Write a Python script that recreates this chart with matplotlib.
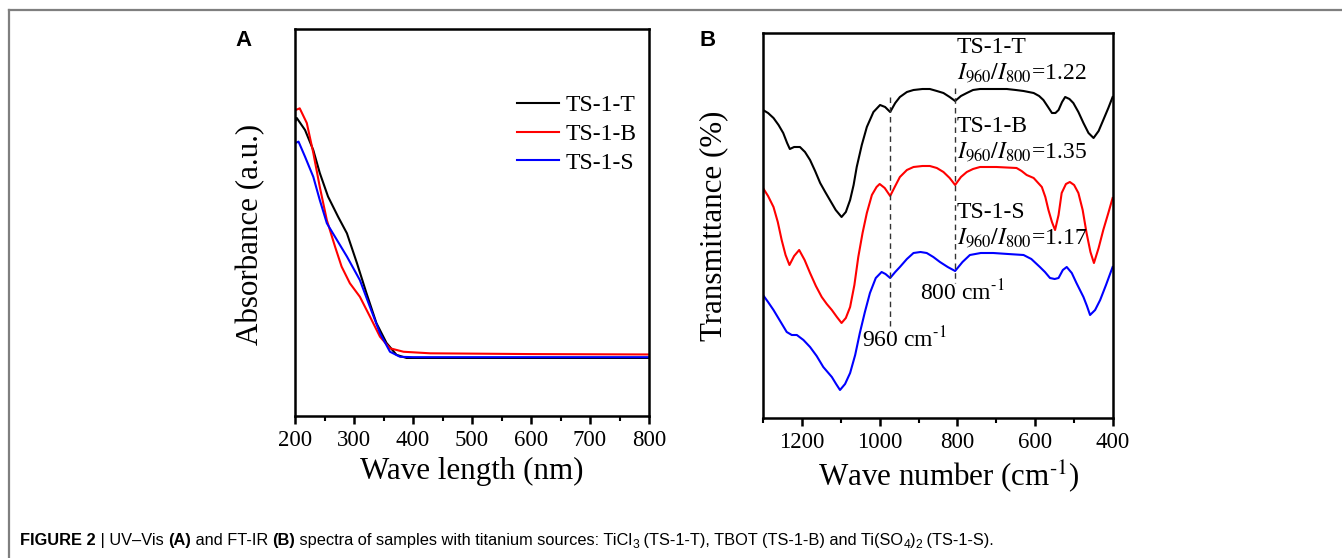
import numpy as np
import matplotlib
matplotlib.use("Agg")
import matplotlib.pyplot as plt
from matplotlib.lines import Line2D
from matplotlib.ticker import MultipleLocator

plt.rcParams["font.family"] = "Liberation Serif"
plt.rcParams["mathtext.fontset"] = "stix"

# ---- (A) UV-Vis, absorbance in arbitrary units ----
uv_t_x = [200, 203, 217, 231, 242, 256, 273, 288, 305, 321, 338, 355, 372, 389, 450, 600, 800]
uv_t_y = [0.760, 0.770, 0.739, 0.687, 0.628, 0.567, 0.515, 0.472, 0.395, 0.318, 0.240, 0.189,
          0.158, 0.150, 0.150, 0.150, 0.150]
uv_b_x = [200, 208, 220, 231, 242, 254, 268, 279, 293, 310, 327, 344, 361, 384, 429, 600, 800]
uv_b_y = [0.790, 0.795, 0.757, 0.680, 0.592, 0.506, 0.437, 0.386, 0.343, 0.308, 0.257, 0.205,
          0.175, 0.166, 0.162, 0.160, 0.159]
uv_s_x = [200, 206, 217, 231, 242, 254, 271, 288, 310, 327, 344, 361, 378, 400, 600, 800]
uv_s_y = [0.705, 0.709, 0.670, 0.618, 0.558, 0.498, 0.455, 0.412, 0.351, 0.282, 0.214, 0.166,
          0.153, 0.152, 0.152, 0.152]

# ---- (B) FT-IR, transmittance (offset curves, read as pixel heights) ----
ir_t_x = [1300, 1287, 1273, 1260, 1248, 1238, 1231, 1220, 1205, 1192, 1179, 1166, 1153, 1140,
          1128, 1113, 1098, 1087, 1076, 1067, 1059, 1046, 1033, 1016, 999, 986, 973, 960, 948,
          930, 913, 890, 871, 853, 836, 820, 806, 791, 776, 760, 742, 700, 673, 650, 630, 604,
          590, 579, 567, 557, 548, 540, 531, 523, 512, 502, 489, 476, 463, 450, 437, 425, 412, 401]
ir_t_y = [110, 113, 118, 125, 133, 143, 149, 147, 147, 152, 160, 171, 183, 192,
          200, 210, 217, 212, 200, 185, 167, 145, 127, 112, 105, 107, 112, 103, 97,
          92, 90, 89, 89, 91, 93, 97, 101, 96, 93, 90, 89, 89, 89, 90, 91, 93,
          96, 100, 107, 113, 113, 110, 102, 97, 99, 103, 112, 123, 133, 138, 131, 120, 108, 97]
ir_b_x = [1300, 1287, 1273, 1262, 1252, 1242, 1232, 1220, 1207, 1193, 1179, 1164, 1149, 1136,
          1123, 1110, 1098, 1087, 1076, 1065, 1055, 1044, 1033, 1020, 1008, 1000, 987, 973, 960,
          948, 930, 913, 890, 871, 853, 836, 820, 806, 791, 776, 760, 742, 700, 648, 635, 622,
          604, 583, 574, 566, 557, 549, 540, 532, 521, 511, 500, 489, 478, 468, 458, 449, 437,
          425, 412, 401]
ir_b_y = [188, 196, 207, 222, 240, 255, 265, 256, 250, 260, 273, 286, 297, 304,
          310, 317, 323, 318, 307, 285, 257, 233, 213, 195, 187, 184, 188, 196, 186,
          177, 170, 167, 166, 166, 168, 172, 178, 185, 177, 172, 169, 167, 167, 168, 171, 175,
          178, 187, 197, 210, 222, 230, 215, 193, 184, 182, 185, 193, 210, 233, 252, 263, 248,
          230, 213, 198]
ir_s_x = [1300, 1287, 1273, 1256, 1239, 1226, 1213, 1196, 1179, 1162, 1145, 1134, 1123, 1112,
          1102, 1089, 1076, 1063, 1051, 1038, 1025, 1010, 995, 985, 973, 960, 948, 930, 913,
          895, 879, 862, 845, 825, 806, 787, 768, 740, 708, 670, 630, 610, 588, 575, 562, 550,
          540, 529, 519, 506, 494, 485, 476, 467, 459, 446, 433, 418, 401]
ir_s_y = [295, 302, 310, 321, 332, 335, 335, 340, 347, 356, 367, 372, 377, 384,
          390, 384, 373, 355, 333, 312, 293, 278, 272, 274, 278, 272, 267, 259, 253,
          252, 253, 257, 262, 267, 271, 262, 255, 253, 253, 254, 255, 259, 267, 272, 278, 279,
          278, 270, 267, 273, 283, 290, 297, 306, 315, 310, 300, 285, 267]

labels = ["TS-1-T", "TS-1-B", "TS-1-S"]
ratios = ["1.22", "1.35", "1.17"]
colors = ["black", "#ff0000", "#0000ff"]


def to_level(py):
    # pixel-read heights -> transmittance level (higher = more transmission)
    return (418 - np.array(py)) / 385.0


fig = plt.figure(figsize=(13.42, 5.58), dpi=100)

# open frame round the figure (top + left)
fig.add_artist(Line2D([9 / 1342, 1], [1 - 10 / 558, 1 - 10 / 558], color="#7f7f7f", lw=1.6))
fig.add_artist(Line2D([9 / 1342, 9 / 1342], [0, 1 - 10 / 558], color="#7f7f7f", lw=1.6))

axA = fig.add_axes([295 / 1342, 142 / 558, 354 / 1342, 387 / 558])
axB = fig.add_axes([763 / 1342, 140 / 558, 350 / 1342, 385 / 558])

for x, y, c, lab in zip([uv_t_x, uv_b_x, uv_s_x], [uv_t_y, uv_b_y, uv_s_y], colors, labels):
    axA.plot(x, y, color=c, lw=1.5, label=lab)
axA.set_xlim(200, 800)
axA.set_ylim(0, 1)
axA.xaxis.set_major_locator(MultipleLocator(100))
axA.xaxis.set_minor_locator(MultipleLocator(50))
axA.set_yticks([])
axA.set_xlabel("Wave length (nm)", fontsize=22.3, labelpad=4)
axA.set_ylabel("Absorbance (a.u.)", fontsize=22.3)
axA.yaxis.set_label_coords(-0.085, 0.47)
axA.legend(loc="upper left", bbox_to_anchor=(0.627, 0.83), frameon=False, fontsize=17,
           handlelength=1.8, handletextpad=0.25, labelspacing=0.3, borderpad=0,
           borderaxespad=0)

for x, y, c in zip([ir_t_x, ir_b_x, ir_s_x], [ir_t_y, ir_b_y, ir_s_y], colors):
    axB.plot(x, to_level(y), color=c, lw=1.5)
axB.set_xlim(1300, 400)
axB.set_ylim(0, 1)
axB.xaxis.set_major_locator(MultipleLocator(200))
axB.xaxis.set_minor_locator(MultipleLocator(100))
axB.set_yticks([])
axB.set_xlabel(r"Wave number (cm$^{\text{-1}}$)", fontsize=22.3, labelpad=4)
axB.xaxis.label.set_x(0.53)
axB.set_ylabel("Transmittance (%)", fontsize=22.3)
axB.yaxis.set_label_coords(-0.099, 0.5)

# marker lines for the 960 and 800 cm-1 bands
axB.plot([973, 973], to_level([97, 326]), color="#333333", lw=1.0, ls=(0, (4, 3)))
axB.plot([806, 806], to_level([88, 283]), color="#333333", lw=1.0, ls=(0, (4, 3)))
axB.text(896, to_level(300), r"800 cm$^{\text{-1}}$", fontsize=17, ha="left", va="baseline")
axB.text(1045, to_level(347), r"960 cm$^{\text{-1}}$", fontsize=17, ha="left", va="baseline")

name_base = [53, 132, 218]
for lab, r, py in zip(labels, ratios, name_base):
    axB.text(801, to_level(py), lab, fontsize=17, ha="left", va="baseline")
    axB.text(801, to_level(py + 25), "$I_{960}/I_{800}$=" + r, fontsize=17,
             ha="left", va="baseline")

for ax in (axA, axB):
    for s in ax.spines.values():
        s.set_linewidth(1.8)
    ax.tick_params(axis="x", which="major", direction="out", length=6, width=1.8,
                   labelsize=16.5, pad=4)
    ax.tick_params(axis="x", which="minor", direction="out", length=3.5, width=1.5)

fig.text(235 / 1342, 1 - 40 / 558, "A", fontsize=16, fontweight="bold",
         family="Liberation Sans", ha="left", va="center")
fig.text(699 / 1342, 1 - 40 / 558, "B", fontsize=16, fontweight="bold",
         family="Liberation Sans", ha="left", va="center")

# caption, drawn piece by piece so bold words and subscripts sit in line
pieces = [("FIGURE 2", "bold", 0), (" | UV\u2013Vis ", "normal", 0), ("(A)", "bold", 0),
          (" and FT-IR ", "normal", 0), ("(B)", "bold", 0),
          (" spectra of samples with titanium sources: TiCl", "normal", 0), ("3", "normal", 1),
          (" (TS-1-T), TBOT (TS-1-B) and Ti(SO", "normal", 0), ("4", "normal", 1),
          (")", "normal", 0), ("2", "normal", 1), (" (TS-1-S).", "normal", 0)]
renderer = fig.canvas.get_renderer()
xpos = 20 / 1342
base = 1 - 545 / 558
for txt, w, sub in pieces:
    t = fig.text(xpos, base - (3 / 558 if sub else 0), txt,
                 fontsize=8.7 if sub else 11.8, fontweight=w,
                 family="Liberation Sans", ha="left", va="baseline")
    bb = t.get_window_extent(renderer=renderer)
    xpos += bb.width / fig.bbox.width

fig.savefig("out.png", dpi=100)
